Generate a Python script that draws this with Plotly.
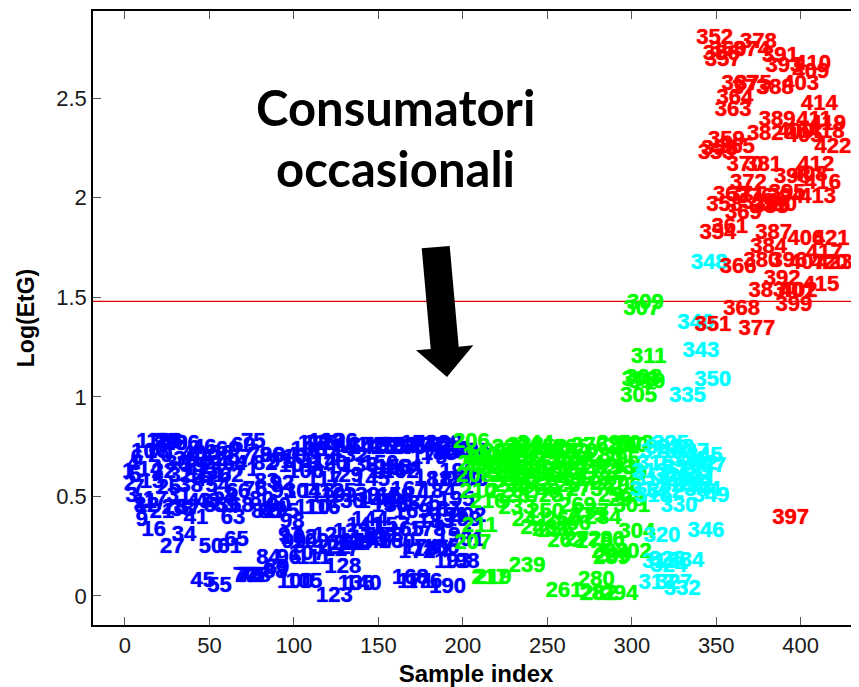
import plotly.graph_objects as go

blue_labels = list(range(1, 206))
blue_y = [.62,.56,.50,.66,.60,.69,.54,.45,.38,.72,
.47,.45,.77,.63,.57,.33,.48,.72,.77,.70,
.42,.62,.77,.77,.54,.77,.245,.44,.76,.66,
.50,.60,.43,.305,.68,.76,.44,.55,.65,.71,
.39,.62,.47,.69,.075,.74,.58,.47,.66,.245,
.60,.68,.45,.55,.045,.71,.62,.50,.45,.73,
.245,.60,.39,.66,.28,.52,.69,.45,.75,.10,
.63,.10,.10,.10,.77,.53,.10,.10,.70,.48,
.42,.66,.57,.19,.42,.70,.43,.12,.14,.45,
.67,.56,.52,.70,.42,.19,.30,.37,.27,.065,
.65,.29,.69,.52,.065,.62,.21,.73,.27,.44,
.19,.76,.52,.67,.76,.44,.58,.77,.50,.66,
.30,.24,-.005,.73,.52,.77,.23,.145,.60,.47,
.26,.70,.32,.26,.75,.055,.27,.65,.50,.055,
.35,.74,.28,.38,.58,.27,.75,.47,.30,.66,
.49,.75,.30,.62,.74,.45,.35,.64,.50,.27,
.75,.62,.46,.64,.33,.74,.53,.09,.42,.75,
.065,.22,.76,.24,.46,.065,.75,.33,.69,.23,
.58,.75,.37,.52,.71,.24,.43,.76,.58,.04,
.40,.73,.17,.30,.48,.62,.72,.17,.38,.58,
.28,.40,.58,.72,.72]

green_labels = list(range(206, 312))
green_y = [.77,.265,.60,.66,.52,.35,.70,.66,.69,.68,.47,.09,.65,.09,.70,
.64,.68,.72,.62,.66,.52,.70,.60,.74,.55,
.68,.62,.44,.72,.58,.66,.50,.75,.15,.64,
.38,.70,.55,.76,.60,.34,.66,.52,.72,.42,
.62,.74,.33,.58,.68,.325,.50,.72,.63,.38,
.02,.275,.66,.60,.74,.36,.55,.68,.45,.72,
.62,.28,.53,.66,.40,.75,.42,.58,.27,.08,
.005,.005,.64,.39,.70,.28,.56,.22,.19,.20,
.76,.50,.64,.005,.68,.55,.75,.48,.61,.75,
.45,.22,.76,.32,1.0,1.08,1.44,1.09,1.47,1.07,1.2]

cyan_labels = list(range(312, 351))
cyan_y = [.53,.62,.58,.50,.66,.06,.72,.17,.30,.74,.52,.18,.15,.76,.60,.06,.74,.55,.45,
.64,.03,.58,.175,1.0,.68,.72,.55,.62,1.37,.58,.66,1.23,.53,.70,.325,.65,1.67,.50,1.08]

red_labels = list(range(351, 424))
red_y = [1.36,2.80,2.22,1.82,2.24,2.72,2.69,1.96,2.29,2.74,
1.85,2.01,2.44,2.50,2.25,1.65,2.57,1.44,1.92,2.16,
2.01,2.07,2.55,2.74,2.57,2.00,1.34,2.78,1.97,1.68,
2.16,2.32,1.53,1.75,1.95,1.96,1.82,2.55,2.39,1.96,
2.71,1.59,2.66,2.00,2.02,1.68,.39,2.10,1.46,2.33,
1.53,1.53,2.57,2.33,2.31,1.79,1.67,2.11,2.63,2.67,
2.39,2.16,2.00,2.47,1.56,2.07,1.72,2.33,2.37,1.67,
1.79,2.25,1.67]

threshold_x = [-18.9, 434.5]
threshold_y = [1.48, 1.48]
x_ticks = [0, 50, 100, 150, 200, 250, 300, 350, 400]
y_ticks = [0, 0.5, 1, 1.5, 2, 2.5]
y_tick_labels = ["0", "0.5", "1", "1.5", "2", "2.5"]

PAGE = 8  # the page's own margin
W, H = 859 - PAGE, 687 - PAGE
L, R, T, B = 93, 859, 11, 625
arrow_px = [(421.7, 248.3), (449.7, 246), (458.7, 346.7), (473.3, 345.3),
            (447, 377), (416, 350.3), (430.7, 349)]


def to_paper(p):
    return (p[0] - L) / (R - L), (B - p[1]) / (B - T)


path = "M " + " L ".join("%.5f %.5f" % to_paper(p) for p in arrow_px) + " Z"

fig = go.Figure()
fig.add_trace(go.Scatter(x=threshold_x, y=threshold_y, mode="lines",
                         line=dict(color="#e00000", width=1.2), hoverinfo="skip"))

series = [(blue_labels, blue_y, "#0000ff", 1), (green_labels, green_y, "#00ff00", -1),
          (cyan_labels, cyan_y, "#00ffff", -2), (red_labels, red_y, "#ff0000", -3)]
for labels, ys, color, shift in series:
    fig.add_trace(go.Scatter(
        x=[v + shift for v in labels], y=ys, text=[str(v) for v in labels],
        mode="text", textposition="middle center", cliponaxis=False,
        textfont=dict(family="Liberation Sans", size=22, color=color, weight="bold",
                      shadow="0 0 1px " + color),
        hoverinfo="skip"))

fig.update_layout(
    width=W, height=H, showlegend=False,
    margin=dict(l=L - PAGE, r=0, t=T - PAGE, b=687 - B, autoexpand=False),
    paper_bgcolor="white", plot_bgcolor="white",
    font=dict(family="Liberation Sans", color="#1a1a1a"),
    shapes=[dict(type="path", xref="paper", yref="paper", path=path,
                 fillcolor="black", line=dict(width=0), layer="above")],
    annotations=[
        dict(text="<b>Consumatori</b>", xref="paper", yref="paper",
             x=to_paper((395, 0))[0], y=to_paper((0, 107))[1], showarrow=False,
             xanchor="center", yanchor="middle",
             font=dict(family="Lato", size=49, color="black")),
        dict(text="<b>occasionali</b>", xref="paper", yref="paper",
             x=to_paper((395, 0))[0], y=to_paper((0, 168))[1], showarrow=False,
             xanchor="center", yanchor="middle",
             font=dict(family="Lato", size=49, color="black")),
    ],
    xaxis=dict(range=[-18.9, 434.5], tickvals=x_ticks, ticks="inside", ticklen=8,
               tickcolor="#555555", tickwidth=1, showgrid=False, zeroline=False,
               showline=True, linecolor="black", linewidth=1.5, mirror="allticks",
               tickfont=dict(size=22, color="#1a1a1a"),
               title=dict(text="<b>Sample index</b>", standoff=9,
                          font=dict(size=24, color="black"))),
    yaxis=dict(range=[-0.146, 2.938], tickvals=y_ticks, ticktext=y_tick_labels,
               ticks="inside", ticklen=8, tickcolor="#555555", tickwidth=1,
               showgrid=False, zeroline=False, showline=True, linecolor="black",
               linewidth=1.5, tickfont=dict(size=22, color="#1a1a1a"),
               title=dict(text="<b>Log(EtG)</b>", standoff=15,
                          font=dict(size=23, color="black"))),
)
fig.write_html("out.html")
